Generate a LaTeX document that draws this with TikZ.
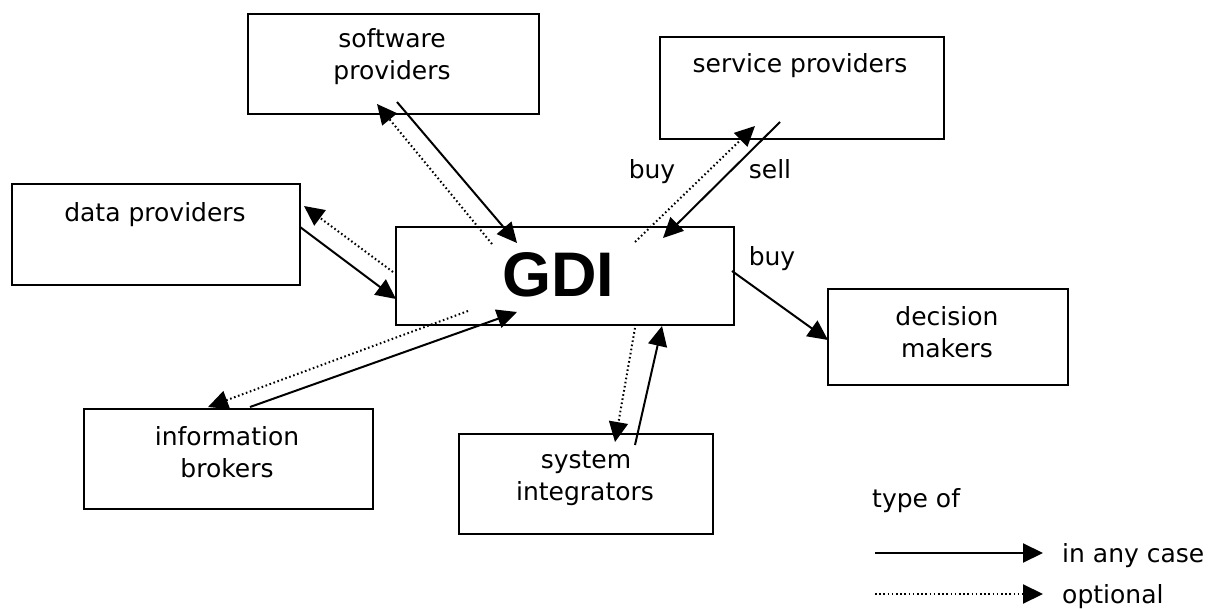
\documentclass[tikz,border=0pt]{standalone}
\usepackage{fontspec}
\setmainfont{DejaVu Sans}
\newfontfamily\gdifont{Liberation Sans}
\usetikzlibrary{arrows.meta}
\tikzset{
  box/.style={draw, line width=2pt, rectangle, inner sep=0pt, anchor=north west},
  lbl/.style={anchor=base, inner sep=0pt, font=\fontsize{25}{32}\selectfont},
  solidarrow/.style={line width=2pt, -{Triangle[length=20pt,width=19pt]}},
  dotarrow/.style={line width=2pt, dash pattern=on 1.6pt off 2.6pt, -{Triangle[length=20pt,width=19pt]}},
}
\begin{document}
\begin{tikzpicture}[x=1pt,y=-1pt]
\useasboundingbox (0,0) rectangle (1217,609);
% boxes
\node[box, minimum width=291pt, minimum height=100pt] (soft) at (247,13) {};
\node[box, minimum width=284pt, minimum height=102pt] (serv) at (659,36) {};
\node[box, minimum width=288pt, minimum height=101pt] (data) at (11,183) {};
\node[box, minimum width=338pt, minimum height=98pt] (gdi) at (395,226) {};
\node[box, minimum width=240pt, minimum height=96pt] (dec) at (827,288) {};
\node[box, minimum width=289pt, minimum height=100pt] (info) at (83,408) {};
\node[box, minimum width=254pt, minimum height=100pt] (sys) at (458,433) {};
% labels
\node[lbl] (tsoft1) at (392,48) {software};
\node[lbl] (tsoft2) at (392,80) {providers};
\node[lbl] (tserv) at (800,73) {service providers};
\node[lbl] (tdata) at (155,222) {data providers};
\node[anchor=base, inner sep=0pt, font=\gdifont\bfseries\fontsize{63}{63}\selectfont] (tgdi) at (558,297) {GDI};
\node[lbl] (tdec1) at (947,325) {decision};
\node[lbl] (tdec2) at (947,357) {makers};
\node[lbl] (tinfo1) at (227,445) {information};
\node[lbl] (tinfo2) at (227,477) {brokers};
\node[lbl] (tsys1) at (586,468) {system};
\node[lbl] (tsys2) at (585,500) {integrators};
\node[lbl] (buy1) at (652,179) {buy};
\node[lbl] (sell) at (770,179) {sell};
\node[lbl] (buy2) at (772,266) {buy};
% connectors
\draw[solidarrow] ([shift={(-143,-13)}]soft.south east) -- ([shift={(122,17)}]gdi.north west);
\draw[dotarrow] ([shift={(97,18)}]gdi.north west) -- ([shift={(-163,-11)}]soft.south east);
\draw[solidarrow] ([shift={(121,-18)}]serv.south west) -- ([shift={(268,12)}]gdi.north west);
\draw[dotarrow] ([shift={(240,16)}]gdi.north west) -- ([shift={(96,-14)}]serv.south west);
\draw[solidarrow] ([shift={(-1,44)}]data.north east) -- ([shift={(1,73)}]gdi.north west);
\draw[dotarrow] ([shift={(-2,46)}]gdi.north west) -- ([shift={(3,23)}]data.north east);
\draw[solidarrow] ([shift={(167,-1)}]info.north west) -- ([shift={(122,86)}]gdi.north west);
\draw[dotarrow] ([shift={(73,85)}]gdi.north west) -- ([shift={(125,-1)}]info.north west);
\draw[solidarrow] ([shift={(177,12)}]sys.north west) -- ([shift={(267,100)}]gdi.north west);
\draw[dotarrow] ([shift={(240,102)}]gdi.north west) -- ([shift={(157,9)}]sys.north west);
\draw[solidarrow] ([shift={(337,45)}]gdi.north west) -- ([shift={(1,52)}]dec.north west);
% legend
\node[lbl, anchor=base west] (ttype) at (872,507) {type of};
\coordinate (ls1) at (875,553);
\coordinate (le1) at (1043,553);
\coordinate (ls2) at (875,594);
\coordinate (le2) at (1043,594);
\draw[solidarrow] (ls1) -- (le1);
\draw[dotarrow] (ls2) -- (le2);
\node[lbl, anchor=base west] (tany) at (1062,562) {in any case};
\node[lbl, anchor=base west] (topt) at (1062,603) {optional};
\end{tikzpicture}
\end{document}
